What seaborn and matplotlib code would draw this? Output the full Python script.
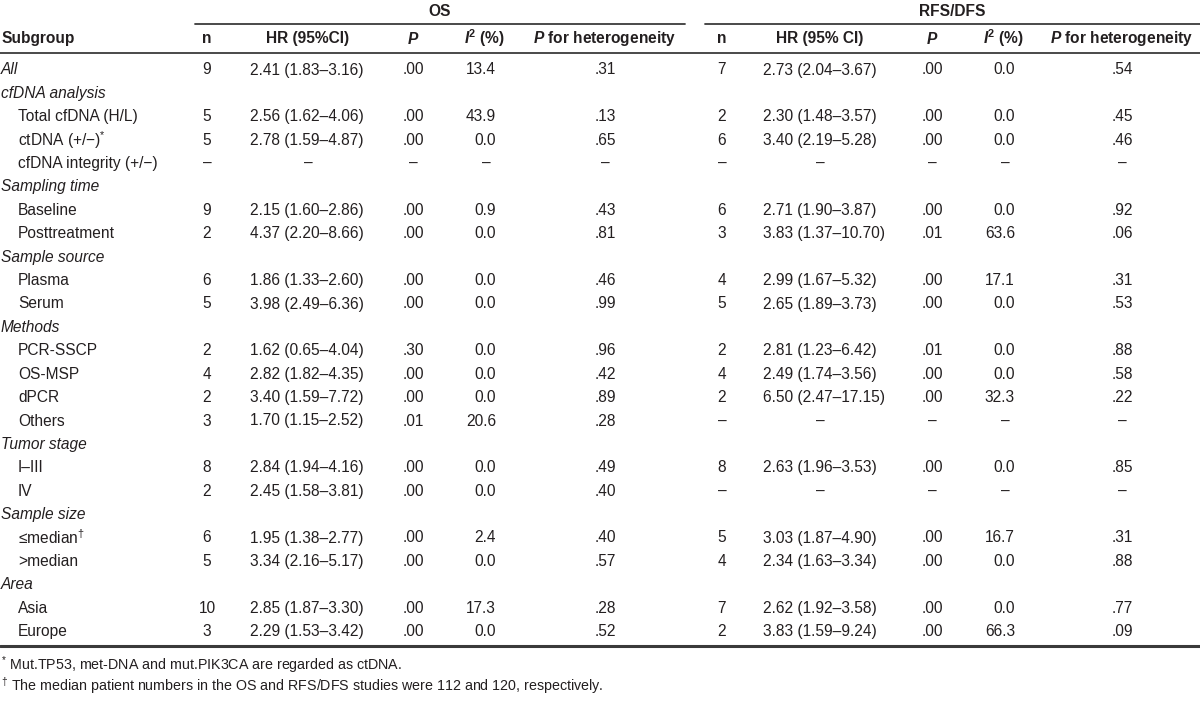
import matplotlib
matplotlib.use("Agg")
import matplotlib.pyplot as plt
import seaborn as sns

# table content
subgroups = ["All", "cfDNA analysis", "Total cfDNA (H/L)", "ctDNA (+/−)$^{*}$",
             "cfDNA integrity (+/−)", "Sampling time", "Baseline", "Posttreatment",
             "Sample source", "Plasma", "Serum", "Methods", "PCR-SSCP", "OS-MSP",
             "dPCR", "Others", "Tumor stage", "I–III", "IV", "Sample size",
             "≤median$^{\\dagger}$", ">median", "Area", "Asia", "Europe"]
headings = ["All", "cfDNA analysis", "Sampling time", "Sample source", "Methods",
            "Tumor stage", "Sample size", "Area"]

os_n = ["9", "", "5", "5", "–", "", "9", "2", "", "6", "5", "", "2", "4", "2", "3",
        "", "8", "2", "", "6", "5", "", "10", "3"]
os_hr = ["2.41 (1.83–3.16)", "", "2.56 (1.62–4.06)", "2.78 (1.59–4.87)", "–", "",
         "2.15 (1.60–2.86)", "4.37 (2.20–8.66)", "", "1.86 (1.33–2.60)",
         "3.98 (2.49–6.36)", "", "1.62 (0.65–4.04)", "2.82 (1.82–4.35)",
         "3.40 (1.59–7.72)", "1.70 (1.15–2.52)", "", "2.84 (1.94–4.16)",
         "2.45 (1.58–3.81)", "", "1.95 (1.38–2.77)", "3.34 (2.16–5.17)", "",
         "2.85 (1.87–3.30)", "2.29 (1.53–3.42)"]
os_p = [".00", "", ".00", ".00", "–", "", ".00", ".00", "", ".00", ".00", "", ".30",
        ".00", ".00", ".01", "", ".00", ".00", "", ".00", ".00", "", ".00", ".00"]
os_i2 = ["13.4", "", "43.9", "0.0", "–", "", "0.9", "0.0", "", "0.0", "0.0", "",
         "0.0", "0.0", "0.0", "20.6", "", "0.0", "0.0", "", "2.4", "0.0", "",
         "17.3", "0.0"]
os_phet = [".31", "", ".13", ".65", "–", "", ".43", ".81", "", ".46", ".99", "",
           ".96", ".42", ".89", ".28", "", ".49", ".40", "", ".40", ".57", "",
           ".28", ".52"]

rfs_n = ["7", "", "2", "6", "–", "", "6", "3", "", "4", "5", "", "2", "4", "2", "–",
         "", "8", "–", "", "5", "4", "", "7", "2"]
rfs_hr = ["2.73 (2.04–3.67)", "", "2.30 (1.48–3.57)", "3.40 (2.19–5.28)", "–", "",
          "2.71 (1.90–3.87)", "3.83 (1.37–10.70)", "", "2.99 (1.67–5.32)",
          "2.65 (1.89–3.73)", "", "2.81 (1.23–6.42)", "2.49 (1.74–3.56)",
          "6.50 (2.47–17.15)", "–", "", "2.63 (1.96–3.53)", "–", "",
          "3.03 (1.87–4.90)", "2.34 (1.63–3.34)", "", "2.62 (1.92–3.58)",
          "3.83 (1.59–9.24)"]
rfs_p = [".00", "", ".00", ".00", "–", "", ".00", ".01", "", ".00", ".00", "", ".01",
         ".00", ".00", "–", "", ".00", "–", "", ".00", ".00", "", ".00", ".00"]
rfs_i2 = ["0.0", "", "0.0", "0.0", "–", "", "0.0", "63.6", "", "17.1", "0.0", "",
          "0.0", "0.0", "32.3", "–", "", "0.0", "–", "", "16.7", "0.0", "", "0.0",
          "66.3"]
rfs_phet = [".54", "", ".45", ".46", "–", "", ".92", ".06", "", ".31", ".53", "",
            ".88", ".58", ".22", "–", "", ".85", "–", "", ".31", ".88", "", ".77",
            ".09"]

footnotes = ["$^{*}$ Mut.TP53, met-DNA and mut.PIK3CA are regarded as ctDNA.",
             "$^{\\dagger}$ The median patient numbers in the OS and RFS/DFS studies were 112 and 120, respectively."]

sns.set_theme(style="white")
base = "Liberation Sans"
plt.rcParams["font.family"] = [base, "DejaVu Sans"]
plt.rcParams["mathtext.fontset"] = "custom"
plt.rcParams["mathtext.rm"] = base
plt.rcParams["mathtext.it"] = base + ":italic"
plt.rcParams["mathtext.bf"] = base + ":bold"
plt.rcParams["mathtext.bfit"] = base + ":italic:bold"

ink = "#231f20"
rule = "#3a3a3a"
fs = 11.2

fig = plt.figure(figsize=(12, 7.06), dpi=100)
ax = fig.add_axes([0, 0, 1, 1])
ax.set_xlim(0, 1200)
ax.set_ylim(706, 0)
ax.axis("off")

# column anchors for the two blocks (OS, RFS/DFS)
blocks = [
    dict(title="OS", line=(195, 685), hr_head="HR (95%CI)",
         n=207, hr=250, hr_c=308, p=413, i2=496, i2_c=484, ph=605,
         data=(os_n, os_hr, os_p, os_i2, os_phet)),
    dict(title="RFS/DFS", line=(705, 1200), hr_head="HR (95% CI)",
         n=722, hr=763, hr_c=820, p=932, i2=1015, i2_c=1003, ph=1122,
         data=(rfs_n, rfs_hr, rfs_p, rfs_i2, rfs_phet)),
]

# group headers and rules
for b in blocks:
    x0, x1 = b["line"]
    ax.text((x0 + x1) / 2, 11, b["title"], ha="center", va="center", fontsize=fs,
            weight="bold", color=ink)
    ax.plot([x0, x1], [24, 24], color=rule, lw=1.3)
ax.plot([0, 1200], [53, 53], color=rule, lw=1.3)
ax.plot([0, 1200], [646, 646], color=rule, lw=2.2)

# column headers
hy = 38.5
ax.text(1, hy, "Subgroup", ha="left", va="center", fontsize=fs, weight="bold", color=ink)
for b in blocks:
    ax.text(b["n"], hy, "n", ha="center", va="center", fontsize=fs, weight="bold", color=ink)
    ax.text(b["hr_c"], hy, b["hr_head"], ha="center", va="center", fontsize=fs,
            weight="bold", color=ink)
    ax.text(b["p"], hy, r"$\mathbfit{P}$", ha="center", va="center", fontsize=fs, color=ink)
    ax.text(b["i2_c"], hy, r"$\mathbfit{I}^{\mathbf{2}}$ (%)", ha="center", va="center",
            fontsize=fs, weight="bold", color=ink)
    ax.text(b["ph"], hy, r"$\mathbfit{P}$ for heterogeneity", ha="center", va="center",
            fontsize=fs, weight="bold", color=ink)

# body
y0, dy = 70, 23.4
for i, lab in enumerate(subgroups):
    y = y0 + i * dy
    if lab in headings:
        ax.text(1, y, lab, ha="left", va="center", fontsize=fs, style="italic", color=ink)
    else:
        ax.text(18, y, lab, ha="left", va="center", fontsize=fs, color=ink)
    for b in blocks:
        n, hr, p, i2, ph = b["data"]
        if n[i] == "" and hr[i] == "":
            continue
        ax.text(b["n"], y, n[i], ha="center", va="center", fontsize=fs, color=ink)
        if hr[i] == "–":
            ax.text(b["hr_c"], y, hr[i], ha="center", va="center", fontsize=fs, color=ink)
        else:
            ax.text(b["hr"], y, hr[i], ha="left", va="center", fontsize=fs, color=ink)
        ax.text(b["p"], y, p[i], ha="center", va="center", fontsize=fs, color=ink)
        if i2[i] == "–":
            ax.text(b["i2"] - 10, y, i2[i], ha="center", va="center", fontsize=fs, color=ink)
        else:
            ax.text(b["i2"], y, i2[i], ha="right", va="center", fontsize=fs, color=ink)
        ax.text(b["ph"], y, ph[i], ha="center", va="center", fontsize=fs, color=ink)

for k, note in enumerate(footnotes):
    ax.text(1, 665 + k * 21, note, ha="left", va="center", fontsize=10.3, color=ink)

fig.savefig("out.png", dpi=100)
